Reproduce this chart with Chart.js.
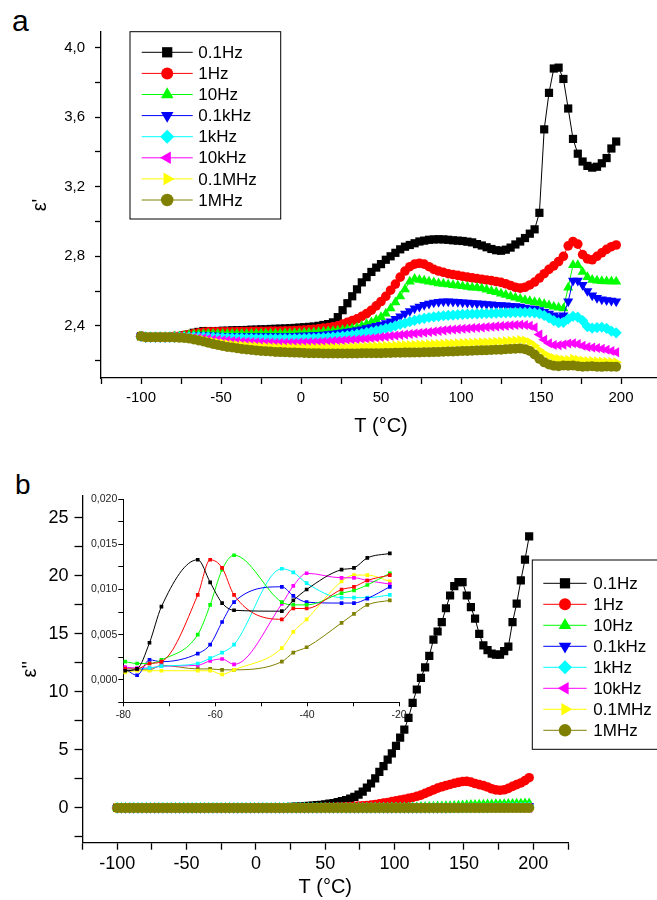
<!DOCTYPE html>
<html>
<head>
<meta charset="utf-8">
<script src="https://cdn.jsdelivr.net/npm/chart.js"></script>
<style>
  html, body { margin: 0; padding: 0; background: #fff; }
  body { width: 657px; height: 900px; overflow: hidden; position: relative; font-family: 'Liberation Sans', Arial, sans-serif; }
  canvas { position: absolute; }
  .tag { position: absolute; color: #000; line-height: 1; }
</style>
</head>
<body>
<div class="tag" style="left:12px;top:6px;font-size:30px;">a</div>
<div class="tag" style="left:15px;top:471px;font-size:28px;">b</div>
<canvas id="chartA" width="680" height="442" style="left:0;top:0"></canvas>
<canvas id="chartB" width="680" height="435" style="left:0;top:465px"></canvas>
<canvas id="chartInset" width="345" height="235" style="left:85px;top:490px"></canvas>
<script>
// measurement temperatures (°C), shared by both panels
const temps = [
  -100,-97,-94,-91,-88,-85,-82,-79,-76,-73,
  -70,-67,-64,-61,-58,-55,-52,-49,-46,-43,
  -40,-37,-34,-31,-28,-25,-22,-19,-16,-13,
  -10,-7,-4,-1,2,5,8,11,14,17,
  20,23,26,29,32,35,38,41,44,47,
  50,53,56,59,62,65,68,71,74,77,
  80,83,86,89,92,95,98,101,104,107,
  110,113,116,119,122,125,128,131,134,137,
  140,143,146,149,152,155,158,161,164,167,
  170,173,176,179,182,185,188,191,194,197
];

const seriesLabels = ['0.1Hz', '1Hz', '10Hz', '0.1kHz', '1kHz', '10kHz', '0.1MHz', '1MHz'];
const seriesColors = ['#000000', '#ff0000', '#00ff00', '#0000ff', '#00ffff', '#ff00ff', '#ffff00', '#808000'];
const markerStyles = ['rect', 'circle', 'triangle', 'triangle', 'rectRot', 'triangle', 'triangle', 'circle'];
const markerRotations = [0, 0, 0, 180, 0, 270, 90, 0];
const markerRadii = [5.8, 4.8, 5.8, 5.8, 5.6, 5.8, 5.8, 5.0];

// panel a : epsilon'
const realA_01Hz = [
  2.34,2.335,2.335,2.335,2.335,2.335,2.335,2.34,2.34,2.345,
  2.35,2.36,2.365,2.37,2.37,2.37,2.37,2.372,2.372,2.374,
  2.375,2.375,2.376,2.378,2.378,2.38,2.38,2.382,2.383,2.384,
  2.385,2.386,2.388,2.39,2.392,2.394,2.396,2.40,2.405,2.41,
  2.42,2.45,2.49,2.53,2.57,2.61,2.65,2.68,2.71,2.735,
  2.755,2.78,2.80,2.82,2.84,2.855,2.865,2.875,2.885,2.89,
  2.895,2.897,2.898,2.897,2.895,2.892,2.89,2.888,2.884,2.88,
  2.87,2.862,2.852,2.842,2.835,2.832,2.838,2.85,2.868,2.885,
  2.905,2.93,2.955,3.05,3.53,3.74,3.88,3.885,3.82,3.65,
  3.475,3.39,3.345,3.32,3.31,3.315,3.335,3.365,3.42,3.46
];
const realA_1Hz = [
  2.34,2.335,2.335,2.335,2.335,2.335,2.335,2.34,2.34,2.345,
  2.35,2.355,2.36,2.363,2.365,2.365,2.365,2.366,2.366,2.366,
  2.367,2.367,2.367,2.368,2.368,2.368,2.369,2.37,2.37,2.37,
  2.371,2.372,2.373,2.374,2.376,2.378,2.38,2.383,2.387,2.39,
  2.395,2.40,2.41,2.42,2.43,2.44,2.455,2.47,2.49,2.515,
  2.54,2.57,2.605,2.64,2.68,2.715,2.74,2.755,2.76,2.755,
  2.74,2.725,2.715,2.708,2.70,2.695,2.69,2.685,2.68,2.676,
  2.672,2.668,2.664,2.66,2.655,2.65,2.642,2.632,2.622,2.617,
  2.622,2.635,2.652,2.675,2.70,2.725,2.745,2.77,2.80,2.86,
  2.885,2.87,2.81,2.785,2.78,2.80,2.82,2.84,2.855,2.865
];
const realA_10Hz = [
  2.34,2.335,2.335,2.335,2.335,2.335,2.335,2.34,2.34,2.343,
  2.347,2.35,2.352,2.353,2.354,2.354,2.354,2.354,2.354,2.354,
  2.354,2.354,2.354,2.354,2.355,2.355,2.355,2.355,2.356,2.356,
  2.357,2.357,2.358,2.359,2.36,2.361,2.362,2.364,2.366,2.368,
  2.37,2.373,2.376,2.38,2.385,2.39,2.40,2.41,2.42,2.435,
  2.45,2.47,2.50,2.535,2.57,2.61,2.655,2.67,2.665,2.66,
  2.655,2.65,2.645,2.642,2.638,2.635,2.632,2.628,2.624,2.62,
  2.62,2.615,2.608,2.60,2.594,2.586,2.578,2.57,2.562,2.555,
  2.548,2.542,2.537,2.532,2.525,2.518,2.51,2.505,2.50,2.62,
  2.75,2.75,2.71,2.68,2.665,2.66,2.658,2.656,2.656,2.655
];
const realA_01kHz = [
  2.34,2.335,2.335,2.335,2.335,2.335,2.335,2.338,2.338,2.34,
  2.342,2.344,2.345,2.345,2.345,2.344,2.343,2.342,2.341,2.34,
  2.34,2.34,2.34,2.34,2.34,2.34,2.34,2.34,2.34,2.34,
  2.341,2.341,2.342,2.343,2.344,2.345,2.346,2.348,2.35,2.352,
  2.355,2.358,2.362,2.366,2.37,2.375,2.38,2.386,2.392,2.40,
  2.405,2.415,2.425,2.44,2.455,2.47,2.485,2.50,2.51,2.52,
  2.528,2.534,2.538,2.54,2.54,2.539,2.537,2.535,2.533,2.531,
  2.529,2.527,2.525,2.523,2.521,2.519,2.517,2.515,2.513,2.51,
  2.505,2.50,2.497,2.49,2.48,2.47,2.46,2.45,2.46,2.54,
  2.66,2.66,2.635,2.60,2.575,2.56,2.552,2.548,2.545,2.54
];
const realA_1kHz = [
  2.34,2.335,2.335,2.335,2.335,2.335,2.335,2.335,2.335,2.335,
  2.335,2.336,2.336,2.336,2.335,2.334,2.333,2.332,2.331,2.33,
  2.33,2.329,2.328,2.328,2.327,2.327,2.326,2.326,2.326,2.326,
  2.326,2.326,2.327,2.327,2.328,2.329,2.33,2.331,2.332,2.334,
  2.336,2.338,2.341,2.344,2.348,2.352,2.357,2.362,2.367,2.372,
  2.378,2.385,2.392,2.40,2.408,2.416,2.424,2.432,2.438,2.443,
  2.448,2.452,2.455,2.458,2.46,2.462,2.464,2.466,2.467,2.468,
  2.469,2.47,2.471,2.472,2.473,2.474,2.475,2.476,2.477,2.478,
  2.478,2.478,2.475,2.47,2.46,2.445,2.43,2.418,2.42,2.44,
  2.455,2.45,2.43,2.395,2.387,2.39,2.392,2.385,2.37,2.36
];
const realA_10kHz = [
  2.34,2.335,2.335,2.335,2.335,2.335,2.335,2.335,2.335,2.334,
  2.333,2.332,2.33,2.328,2.325,2.322,2.32,2.317,2.315,2.313,
  2.311,2.309,2.308,2.307,2.306,2.305,2.304,2.304,2.303,2.303,
  2.303,2.303,2.303,2.304,2.304,2.305,2.306,2.307,2.308,2.31,
  2.312,2.314,2.316,2.318,2.32,2.322,2.324,2.326,2.329,2.332,
  2.335,2.338,2.341,2.344,2.347,2.35,2.353,2.356,2.359,2.362,
  2.365,2.368,2.371,2.374,2.377,2.379,2.381,2.383,2.385,2.387,
  2.389,2.391,2.393,2.395,2.397,2.399,2.401,2.403,2.405,2.406,
  2.405,2.40,2.39,2.35,2.32,2.30,2.29,2.288,2.292,2.298,
  2.30,2.295,2.285,2.278,2.276,2.272,2.268,2.262,2.255,2.248
];
const realA_01MHz = [
  2.34,2.335,2.335,2.335,2.335,2.335,2.335,2.334,2.333,2.332,
  2.33,2.327,2.323,2.318,2.313,2.308,2.304,2.30,2.296,2.293,
  2.29,2.288,2.286,2.284,2.282,2.28,2.279,2.278,2.277,2.276,
  2.275,2.275,2.274,2.274,2.274,2.274,2.274,2.274,2.274,2.275,
  2.275,2.276,2.276,2.277,2.278,2.279,2.28,2.281,2.282,2.283,
  2.284,2.285,2.286,2.287,2.288,2.289,2.29,2.291,2.292,2.293,
  2.294,2.295,2.296,2.297,2.298,2.299,2.30,2.301,2.302,2.303,
  2.304,2.305,2.306,2.307,2.308,2.31,2.312,2.314,2.316,2.318,
  2.316,2.305,2.285,2.26,2.24,2.225,2.215,2.21,2.205,2.205,
  2.21,2.205,2.20,2.198,2.198,2.196,2.195,2.194,2.192,2.19
];
const realA_1MHz = [
  2.34,2.335,2.335,2.335,2.335,2.335,2.334,2.333,2.332,2.33,
  2.327,2.322,2.316,2.31,2.303,2.296,2.29,2.284,2.279,2.275,
  2.271,2.267,2.264,2.261,2.258,2.256,2.254,2.252,2.25,2.249,
  2.248,2.247,2.246,2.245,2.244,2.243,2.242,2.242,2.241,2.241,
  2.241,2.241,2.241,2.241,2.241,2.241,2.242,2.242,2.242,2.243,
  2.243,2.244,2.244,2.245,2.245,2.246,2.246,2.247,2.247,2.248,
  2.248,2.249,2.25,2.251,2.252,2.253,2.254,2.255,2.256,2.257,
  2.258,2.259,2.26,2.261,2.262,2.263,2.265,2.267,2.268,2.27,
  2.266,2.255,2.235,2.21,2.19,2.178,2.17,2.168,2.172,2.17,
  2.172,2.168,2.165,2.166,2.168,2.165,2.164,2.166,2.165,2.165
];

// panel b : epsilon''
const lossB_01Hz = [
  0.02,0.02,0.02,0.02,0.02,0.02,0.02,0.02,0.02,0.02,
  0.02,0.02,0.02,0.02,0.02,0.02,0.02,0.02,0.02,0.02,
  0.02,0.02,0.02,0.02,0.02,0.03,0.03,0.03,0.03,0.03,
  0.03,0.03,0.03,0.03,0.04,0.04,0.04,0.05,0.05,0.05,
  0.06,0.07,0.08,0.1,0.12,0.14,0.17,0.2,0.23,0.27,
  0.3,0.36,0.42,0.5,0.58,0.68,0.8,0.95,1.15,1.4,
  1.75,2.1,2.55,3.1,3.6,4.15,4.7,5.35,6.05,6.75,
  7.75,9.05,10.2,11.2,12.1,13.1,14.5,15.2,16.0,17.2,
  18.3,19.1,19.45,19.45,18.3,17.3,16.3,15.0,14.0,13.6,
  13.3,13.2,13.2,13.5,13.9,16.0,17.6,19.6,21.4,23.4
];
const lossB_1Hz = [
  0,0,0,0,0,0,0,0,0,0,
  0,0,0,0,0,0,0,0,0,0,
  0,0,0,0,0,0,0,0,0,0,
  0,0,0,0,0,0,0,0,0,0,
  0,0,0,0,0.01,0.01,0.02,0.02,0.03,0.03,
  0.04,0.05,0.06,0.07,0.08,0.1,0.12,0.14,0.16,0.18,
  0.2,0.24,0.29,0.35,0.41,0.47,0.54,0.6,0.67,0.75,
  0.82,0.9,1.0,1.1,1.25,1.4,1.55,1.7,1.82,1.93,
  2.02,2.12,2.2,2.27,2.28,2.22,2.1,2.0,1.92,1.8,
  1.65,1.55,1.52,1.56,1.68,1.85,2.0,2.15,2.35,2.6
];
const lossB_10Hz = [
  0,0,0,0,0,0,0,0,0,0,
  0,0,0,0,0,0,0,0,0,0,
  0,0,0,0,0,0,0,0,0,0,
  0,0,0,0,0,0,0,0,0,0,
  0,0,0,0,0,0,0,0,0,0,
  0,0,0,0,0,0,0,0,0,0,
  0.01,0.01,0.02,0.02,0.03,0.03,0.04,0.04,0.05,0.05,
  0.06,0.07,0.08,0.09,0.1,0.11,0.12,0.13,0.14,0.15,
  0.16,0.18,0.2,0.22,0.24,0.26,0.27,0.28,0.29,0.3,
  0.31,0.32,0.33,0.34,0.35,0.36,0.37,0.38,0.39,0.4
];
const lossB_01kHz = [
  0,0,0,0,0,0,0,0,0,0,
  0,0,0,0,0,0,0,0,0,0,
  0,0,0,0,0,0,0,0,0,0,
  0,0,0,0,0,0,0,0,0,0,
  0,0,0,0,0,0,0,0,0,0,
  0,0,0,0,0,0,0,0,0,0,
  0,0,0,0,0,0,0,0,0,0,
  0,0,0,0,0,0,0,0,0,0,
  0.02,0.03,0.04,0.05,0.06,0.07,0.08,0.09,0.1,0.1,
  0.11,0.12,0.12,0.13,0.13,0.14,0.14,0.15,0.15,0.16
];
const lossB_1kHz = [
  0,0,0,0,0,0,0,0,0,0,
  0,0,0,0,0,0,0,0,0,0,
  0,0,0,0,0,0,0,0,0,0,
  0,0,0,0,0,0,0,0,0,0,
  0,0,0,0,0,0,0,0,0,0,
  0,0,0,0,0,0,0,0,0,0,
  0,0,0,0,0,0,0,0,0,0,
  0,0,0,0,0,0,0,0,0,0,
  0,0,0,0,0,0,0,0,0,0,
  0.01,0.02,0.02,0.03,0.03,0.04,0.04,0.05,0.05,0.06
];
const lossB_10kHz = [
  0,0,0,0,0,0,0,0,0,0,
  0,0,0,0,0,0,0,0,0,0,
  0,0,0,0,0,0,0,0,0,0,
  0,0,0,0,0,0,0,0,0,0,
  0,0,0,0,0,0,0,0,0,0,
  0,0,0,0,0,0,0,0,0,0,
  0,0,0,0,0,0,0,0,0,0,
  0,0,0,0,0,0,0,0,0,0,
  0,0,0,0,0,0,0,0,0,0,
  0,0,0,0,0,0,0,0,0,0
];
const lossB_01MHz = [
  0,0,0,0,0,0,0,0,0,0,
  0,0,0,0,0,0,0,0,0,0,
  0,0,0,0,0,0,0,0,0,0,
  0,0,0,0,0,0,0,0,0,0,
  0,0,0,0,0,0,0,0,0,0,
  0,0,0,0,0,0,0,0,0,0,
  0,0,0,0,0,0,0,0,0,0,
  0,0,0,0,0,0,0,0,0,0,
  0,0,0,0,0,0,0,0,0,0,
  0,0,0,0,0,0,0,0,0,0
];
const lossB_1MHz = [
  0,0,0,0,0,0,0,0,0,0,
  0,0,0,0,0,0,0,0,0,0,
  0,0,0,0,0,0,0,0,0,0,
  0,0,0,0,0,0,0,0,0,0,
  0,0,0,0,0,0,0,0,0,0,
  0,0,0,0,0,0,0,0,0,0,
  0,0,0,0,0,0,0,0,0,0,
  0,0,0,0,0,0,0,0,0,0,
  0,0,0,0,0,0,0,0,0,0,
  0,0,0,0,0,0,0,0,0,0
];

// inset of panel b (low temperature loss peaks)
const insetTemps = [-79.6, -77, -74.3, -71.7, -63.8, -61.1, -58.5, -55.9, -45.5, -43, -40.1, -32.5, -29.8, -26.9, -22];
const inset_01Hz = [0.0010, 0.0012, 0.0041, 0.0081, 0.0133, 0.0108, 0.0085, 0.0077, 0.0076, 0.0088, 0.0100, 0.0122, 0.0124, 0.0135, 0.0140];
const inset_1Hz = [0.0012, 0.0012, 0.0018, 0.0020, 0.0094, 0.0133, 0.0124, 0.0094, 0.0067, 0.0079, 0.0079, 0.0100, 0.0103, 0.0110, 0.0116];
const inset_10Hz = [0.0020, 0.0018, 0.0018, 0.0022, 0.0050, 0.0083, 0.0122, 0.0138, 0.0086, 0.0083, 0.0083, 0.0096, 0.0099, 0.0105, 0.0118];
const inset_01kHz = [0.0012, 0.0005, 0.0022, 0.0020, 0.0029, 0.0039, 0.0064, 0.0086, 0.0103, 0.0093, 0.0086, 0.0085, 0.0085, 0.0090, 0.0103];
const inset_1kHz = [0.0012, 0.0012, 0.0013, 0.0015, 0.0018, 0.0024, 0.0030, 0.0039, 0.0123, 0.0119, 0.0107, 0.0091, 0.0091, 0.0091, 0.0094];
const inset_10kHz = [0.0014, 0.0013, 0.0013, 0.0015, 0.0016, 0.0021, 0.0023, 0.0017, 0.0084, 0.0104, 0.0118, 0.0113, 0.0113, 0.0110, 0.0106];
const inset_01MHz = [0.0008, 0.0010, 0.0010, 0.0010, 0.0010, 0.0010, 0.0006, 0.0011, 0.0035, 0.0053, 0.0067, 0.0109, 0.0116, 0.0116, 0.0109];
const inset_1MHz = [0.0009, 0.0011, 0.0011, 0.0016, 0.0012, 0.0012, 0.0011, 0.0011, 0.0020, 0.0030, 0.0036, 0.0063, 0.0073, 0.0083, 0.0088];

const FONT = "'Liberation Sans', Arial, sans-serif";
Chart.defaults.font.family = FONT;
Chart.defaults.color = '#000';
Chart.defaults.animation = false;

const isMult = (v, m) => Math.abs(v / m - Math.round(v / m)) < 1e-6;
const comma = (v, d) => v.toFixed(d).replace('.', ',');

function lineSets(seriesList, xs, rScale) {
  return seriesList.map((ys, i) => ({
    label: seriesLabels[i],
    data: xs.map((x, j) => ({x: x, y: ys[j]})),
    showLine: true,
    borderColor: seriesColors[i],
    backgroundColor: seriesColors[i],
    borderWidth: 1,
    pointStyle: markerStyles[i],
    pointRotation: markerRotations[i],
    pointRadius: markerRadii[i] * rScale,
    pointBorderWidth: 0,
    pointBackgroundColor: seriesColors[i],
    order: seriesList.length - i
  }));
}

function axis(o) {
  return {
    type: 'linear', position: o.pos, min: o.min, max: o.max,
    border: {color: '#000', width: o.bw},
    grid: {drawOnChartArea: false, tickLength: o.tl, tickColor: '#000', tickWidth: o.bw},
    ticks: {
      stepSize: o.step, autoSkip: false, maxRotation: 0, includeBounds: false,
      padding: o.pad, color: o.color || '#000', font: {size: o.fs},
      callback: v => isMult(v, o.every) ? o.fmt(v) : ''
    },
    title: o.title ? {display: true, text: o.title, color: '#000', font: {size: o.tfs}, padding: o.tpad} : {display: false},
    afterFit: s => { if (o.pos === 'left') s.width = o.size; else s.height = o.size; }
  };
}

// legend drawn inside a framed box, one row per dataset
const boxLegend = {
  id: 'boxLegend',
  afterDraw(chart) {
    const o = chart.options.plugins.boxLegend;
    const ctx = chart.ctx;
    ctx.save();
    ctx.strokeStyle = '#000';
    ctx.lineWidth = 1;
    ctx.strokeRect(o.x, o.y, o.w, o.h);
    chart.data.datasets.forEach((ds, i) => {
      const cy = o.y + o.first + i * o.row;
      ctx.strokeStyle = ds.borderColor;
      ctx.lineWidth = 1;
      ctx.beginPath();
      ctx.moveTo(o.x + o.l0, cy);
      ctx.lineTo(o.x + o.l1, cy);
      ctx.stroke();
      ctx.fillStyle = ds.pointBackgroundColor;
      Chart.helpers.drawPoint(ctx, {
        pointStyle: ds.pointStyle, rotation: ds.pointRotation,
        radius: ds.pointRadius * 1.25, borderWidth: 0
      }, o.x + (o.l0 + o.l1) / 2, cy);
      ctx.fillStyle = '#000';
      ctx.font = o.fs + 'px ' + FONT;
      ctx.textBaseline = 'middle';
      ctx.textAlign = 'left';
      ctx.fillText(ds.label, o.x + o.tx, cy + 1);
    });
    ctx.restore();
  }
};

new Chart(document.getElementById('chartA'), {
  type: 'scatter',
  data: {
    datasets: lineSets([realA_01Hz, realA_1Hz, realA_10Hz, realA_01kHz, realA_1kHz, realA_10kHz, realA_01MHz, realA_1MHz], temps, 1)
  },
  options: {
    responsive: false,
    events: [],
    layout: {padding: {top: 32, right: 19, bottom: 2, left: 0}},
    scales: {
      x: axis({pos: 'bottom', min: -125, max: 225, step: 25, every: 50, fmt: v => String(v),
        bw: 1.3, tl: 6, pad: 5, fs: 15, size: 62, title: 'T (°C)', tfs: 20, tpad: {top: 0, bottom: 2}}),
      y: axis({pos: 'left', min: 2.1, max: 4.09, step: 0.2, every: 0.4, fmt: v => comma(v, 1),
        bw: 1.3, tl: 6, pad: 10, fs: 15, size: 101, title: "ε'", tfs: 20, tpad: {top: 28, bottom: 0}})
    },
    plugins: {
      legend: {display: false},
      tooltip: {enabled: false},
      boxLegend: {x: 130, y: 31.7, w: 150.7, h: 187.3, first: 20.6, row: 21.1, l0: 11.7, l1: 62.7, tx: 68.3, fs: 17}
    }
  },
  plugins: [boxLegend]
});

new Chart(document.getElementById('chartB'), {
  type: 'scatter',
  data: {
    datasets: lineSets([lossB_01Hz, lossB_1Hz, lossB_10Hz, lossB_01kHz, lossB_1kHz, lossB_10kHz, lossB_01MHz, lossB_1MHz], temps, 1)
  },
  options: {
    responsive: false,
    events: [],
    layout: {padding: {top: 30.7, right: 112, bottom: 0, left: 0}},
    scales: {
      x: axis({pos: 'bottom', min: -125, max: 225, step: 25, every: 50, fmt: v => String(v),
        bw: 1.3, tl: 7, pad: 4, fs: 18, size: 57.3, title: 'T (°C)', tfs: 20, tpad: {top: 0, bottom: 1}}),
      y: axis({pos: 'left', min: -3, max: 26.9, step: 2.5, every: 5, fmt: v => String(v),
        bw: 1.3, tl: 8, pad: 6, fs: 18, size: 82.5, title: "ε''", tfs: 20, tpad: {top: 18, bottom: 0}})
    },
    plugins: {
      legend: {display: false},
      tooltip: {enabled: false},
      boxLegend: {x: 532.3, y: 95, w: 140, h: 189.3, first: 23.3, row: 21, l0: 11, l1: 54.4, tx: 61, fs: 17}
    }
  },
  plugins: [boxLegend]
});

const insetSeries = [inset_01Hz, inset_1Hz, inset_10Hz, inset_01kHz, inset_1kHz, inset_10kHz, inset_01MHz, inset_1MHz];
new Chart(document.getElementById('chartInset'), {
  type: 'scatter',
  data: {
    datasets: insetSeries.map((ys, i) => ({
      label: seriesLabels[i],
      data: insetTemps.map((x, j) => ({x: x, y: ys[j]})),
      showLine: true,
      tension: 0.4,
      cubicInterpolationMode: 'monotone',
      borderColor: seriesColors[i],
      backgroundColor: seriesColors[i],
      borderWidth: 1,
      pointStyle: 'rect',
      pointRadius: 2.6,
      pointBorderWidth: 0,
      pointBackgroundColor: seriesColors[i]
    }))
  },
  options: {
    responsive: false,
    events: [],
    layout: {padding: {top: 9.3, right: 31, bottom: 2.7, left: 0}},
    scales: {
      x: axis({pos: 'bottom', min: -80, max: -20, step: 10, every: 20, fmt: v => String(v),
        bw: 1, tl: 4, pad: 3, fs: 10.5, color: '#222', size: 20}),
      y: axis({pos: 'left', min: -0.0025, max: 0.020, step: 0.0025, every: 0.005, fmt: v => comma(v, 3),
        bw: 1, tl: 5, pad: 1, fs: 10.5, color: '#222', size: 38.3})
    },
    plugins: {legend: {display: false}, tooltip: {enabled: false}}
  }
});
</script>
</body>
</html>
